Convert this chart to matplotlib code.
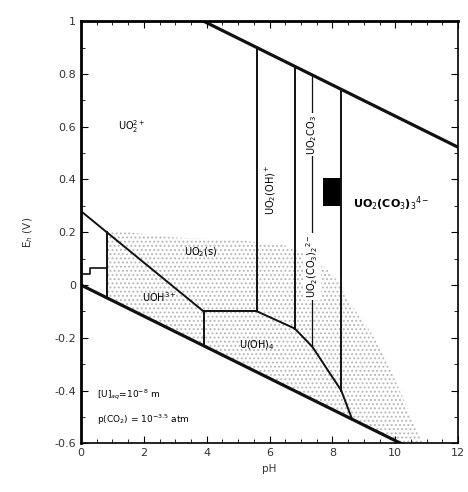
import matplotlib
matplotlib.use("Agg")
import matplotlib.pyplot as plt
import numpy as np

# water stability lines: E = a + b*pH
upper_water = (1.23, -0.059)
lower_water = (0.0, -0.059)

# species boundaries (pH, E)
diag_ph = [0, 3.9]
diag_e = [0.28, -0.10]
flat_ph = [3.9, 5.6]
flat_e = [-0.10, -0.10]
uoh_vert_ph = [3.9, 3.9]
uoh_vert_e = [-0.10, -0.23]
curve_ph = [5.6, 6.8, 7.36, 8.28, 8.63]
curve_e = [-0.10, -0.165, -0.234, -0.40, -0.51]
u4_vert_ph = 0.83
u4_vert_e = [0.199, -0.049]
u4_step_ph = [0, 0.3, 0.3, 0.83]
u4_step_e = [0.04, 0.04, 0.065, 0.065]

# vertical boundaries hanging from the upper water line (pH, bottom E)
verticals = [(5.6, -0.10), (6.8, -0.165), (8.28, -0.40)]
carb_ph = 7.36
carb_bottom = -0.234

# stippled UO2(s) dome
dome_ph = [0.83, 1.5, 3, 5, 6.5, 7.5, 8.3, 8.5, 9, 9.5, 10, 10.5, 10.9]
dome_e = [0.2, 0.2, 0.18, 0.17, 0.15, 0.1, 0.0, -0.06, -0.14, -0.23, -0.36, -0.5, -0.6]

fig = plt.figure(figsize=(4.68, 4.92), dpi=100)
ax = fig.add_axes([0.173, 0.099, 0.806, 0.858])

# stipple
ph = np.linspace(dome_ph[0], dome_ph[-1], 200)
top = np.interp(ph, dome_ph, dome_e)
bot = np.maximum(lower_water[0] + lower_water[1] * ph, -0.6)
plt.rcParams['hatch.linewidth'] = 0.9
ax.fill_between(ph, bot, top, where=top > bot, facecolor="none",
                edgecolor="#b8b8b8", hatch="....", linewidth=0)

k = "#111111"
x = np.array([0, 12])
ax.plot(x, upper_water[0] + upper_water[1] * x, color=k, lw=2.3)
x = np.array([0, 10.2])
ax.plot(x, lower_water[0] + lower_water[1] * x, color=k, lw=2.3)

ax.plot(diag_ph, diag_e, color=k, lw=1.4)
ax.plot(flat_ph, flat_e, color=k, lw=1.4)
ax.plot(uoh_vert_ph, uoh_vert_e, color=k, lw=1.4)
ax.plot(curve_ph, curve_e, color=k, lw=1.4)
ax.plot([u4_vert_ph, u4_vert_ph], u4_vert_e, color=k, lw=1.4)
ax.plot(u4_step_ph, u4_step_e, color=k, lw=1.2)

for p, b in verticals:
    ax.plot([p, p], [upper_water[0] + upper_water[1] * p, b], color=k, lw=1.4)
ax.plot([carb_ph, carb_ph], [upper_water[0] + upper_water[1] * carb_ph, carb_bottom],
        color=k, lw=0.9)

# black marker box
ax.fill_between([7.7, 8.28], 0.30, 0.404, color="black", lw=0)

fs = 7
ax.text(1.6, 0.6, "UO$_2^{2+}$", fontsize=fs, ha="center", va="center")
ax.text(3.8, 0.125, "UO$_2$(s)", fontsize=fs, ha="center", va="center")
ax.text(2.5, -0.045, "UOH$^{3+}$", fontsize=fs, ha="center", va="center")
ax.text(5.6, -0.23, "U(OH)$_4$", fontsize=fs, ha="center", va="center")
ax.text(6.05, 0.36, "UO$_2$(OH)$^+$", fontsize=fs, ha="center", va="center", rotation=90)
ax.text(carb_ph, 0.57, "UO$_2$CO$_3$", fontsize=fs, ha="center", va="center", rotation=90,
        bbox=dict(facecolor="white", edgecolor="none", pad=1))
ax.text(carb_ph, 0.07, "UO$_2$(CO$_3$)$_2$$^{2-}$", fontsize=fs, ha="center", va="center",
        rotation=90, bbox=dict(facecolor="white", edgecolor="none", pad=1))
ax.text(8.65, 0.31, "UO$_2$(CO$_3$)$_3$$^{4-}$", fontsize=8, ha="left", va="center",
        fontweight="bold")
ax.text(0.5, -0.415, "[U]$_{aq}$=10$^{-8}$ m", fontsize=6.5, ha="left", va="center")
ax.text(0.5, -0.51, "p(CO$_2$) = 10$^{-3.5}$ atm", fontsize=6.5, ha="left", va="center")

ax.set_xlim(0, 12)
ax.set_ylim(-0.6, 1)
ax.set_xticks(np.arange(0, 13, 2))
ax.set_xticks(np.arange(0, 12.01, 0.5), minor=True)
yt = np.round(np.arange(-0.6, 1.01, 0.2), 1)
ax.set_yticks(yt)
ax.set_yticklabels([f"{v:g}" for v in yt])
ax.set_yticks(np.arange(-0.6, 1.01, 0.1), minor=True)
ax.tick_params(which="both", direction="in", top=True, right=True,
               labelsize=8, labelcolor="#333333")
ax.tick_params(which="major", length=5)
ax.tick_params(which="minor", length=3)
for s in ax.spines.values():
    s.set_linewidth(1.2)
ax.spines["left"].set_linewidth(2)
ax.spines["top"].set_linewidth(2)

ax.set_xlabel("pH", fontsize=7.5, color="#333333")
ax.set_ylabel("E$_h$ (V)", fontsize=7.5, color="#333333", labelpad=14)

fig.savefig("out.png", dpi=100)
